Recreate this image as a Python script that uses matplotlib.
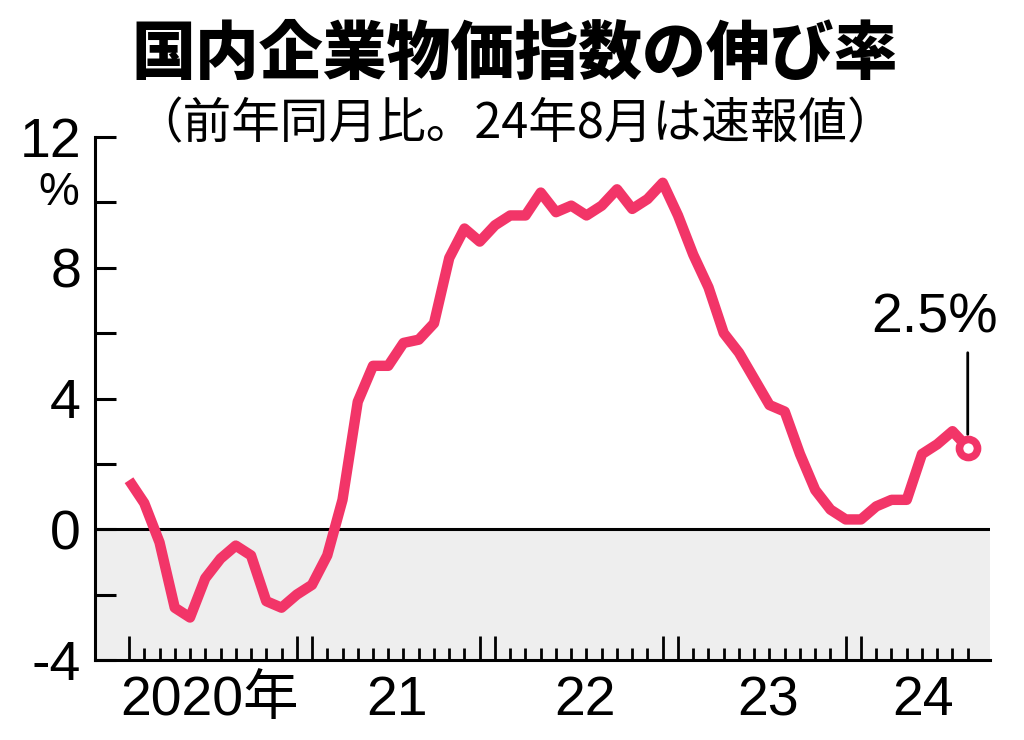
#!/usr/bin/env python3
# 国内企業物価指数の伸び率 (前年同月比)
import matplotlib
matplotlib.use("Agg")
import matplotlib.pyplot as plt
import matplotlib.transforms as mtrans
import numpy as np

JP = ["Noto Sans CJK JP", "DejaVu Sans"]
LAT = ["Liberation Sans", "Noto Sans CJK JP"]
RED = "#F23568"

# 2020年1月 .. 2024年8月 (月次, %)
rate = [1.5, 0.8, -0.4, -2.4, -2.7, -1.5, -0.9, -0.5, -0.8, -2.2, -2.4, -2.0,
        -1.7, -0.8, 0.9, 3.9, 5.0, 5.0, 5.7, 5.8, 6.3, 8.3, 9.2, 8.8,
        9.3, 9.6, 9.6, 10.3, 9.7, 9.9, 9.6, 9.9, 10.4, 9.8, 10.1, 10.6,
        9.6, 8.4, 7.4, 6.0, 5.4, 4.6, 3.8, 3.6, 2.3, 1.2, 0.6, 0.3,
        0.3, 0.7, 0.9, 0.9, 2.3, 2.6, 3.0, 2.5]
months = np.arange(len(rate))
year_labels = ["2020年", "21", "22", "23", "24"]
year_pos = [5.3, 17.6, 29.9, 41.9, 52.1]
ytick_vals = [-4, -2, 0, 2, 4, 6, 8, 10, 12]
ytick_lbls = ["-4", "", "0", "", "4", "", "8", "", "12"]

fig = plt.figure(figsize=(10.24, 7.4), dpi=100)
ax = fig.add_axes([95/1024, 1 - 660/740, (990 - 95)/1024, (660 - 137)/740])

ax.set_xlim(-2.23, 56.46)
ax.set_ylim(-4, 12)
ax.axhspan(-4, 0, color="#EEEEEE", lw=0, zorder=0)
ax.axhline(0, color="black", lw=2.2, zorder=1)

ax.plot(months, rate, color=RED, lw=7.5, solid_joinstyle="round",
        solid_capstyle="butt", zorder=3)
ax.plot(months[-1], rate[-1], "o", ms=13, mew=5.5, mfc="white", mec=RED, zorder=4)

# 最新値のラベル
ax.annotate("", xy=(months[-1], rate[-1] + 0.4), xytext=(months[-1], 5.4),
            arrowprops=dict(arrowstyle="-", color="black", lw=2, shrinkA=0, shrinkB=0))
ax.text(52.8, 5.65, f"{rate[-1]}%", ha="center", va="bottom",
        fontsize=40, family=LAT)

for s in ["top", "right"]:
    ax.spines[s].set_visible(False)
for s in ["left", "bottom"]:
    ax.spines[s].set_linewidth(2.2)

ax.set_yticks(ytick_vals)
ax.set_yticklabels(ytick_lbls, family=LAT, fontsize=40)
ax.tick_params(axis="y", direction="in", length=15, width=2.2, pad=10)
ax.text(-0.018, 10.3, "%", transform=mtrans.blended_transform_factory(ax.transAxes, ax.transData),
        ha="right", va="center", fontsize=33, family=LAT)

# 月の目盛り (1月と12月は長く)
big = [m for m in months if m % 12 in (0, 11)]
ax.set_xticks(big)
ax.set_xticklabels([])
ax.set_xticks(months, minor=True)
ax.tick_params(axis="x", which="major", direction="in", length=17, width=2)
ax.tick_params(axis="x", which="minor", direction="in", length=9, width=2)
tr = mtrans.blended_transform_factory(ax.transData, ax.transAxes)
for lbl, x in zip(year_labels, year_pos):
    ax.text(x, -0.079, lbl, transform=tr, ha="center", va="center",
            fontsize=40, family=LAT)

fig.text(0.503, 0.925, "国内企業物価指数の伸び率", ha="center", va="center",
         fontsize=46, fontweight="heavy", family=JP)
fig.text(0.503, 0.832, "（前年同月比。24年8月は速報値）", ha="center", va="center",
         fontsize=35, family=JP)

fig.savefig("out.png", dpi=100)
